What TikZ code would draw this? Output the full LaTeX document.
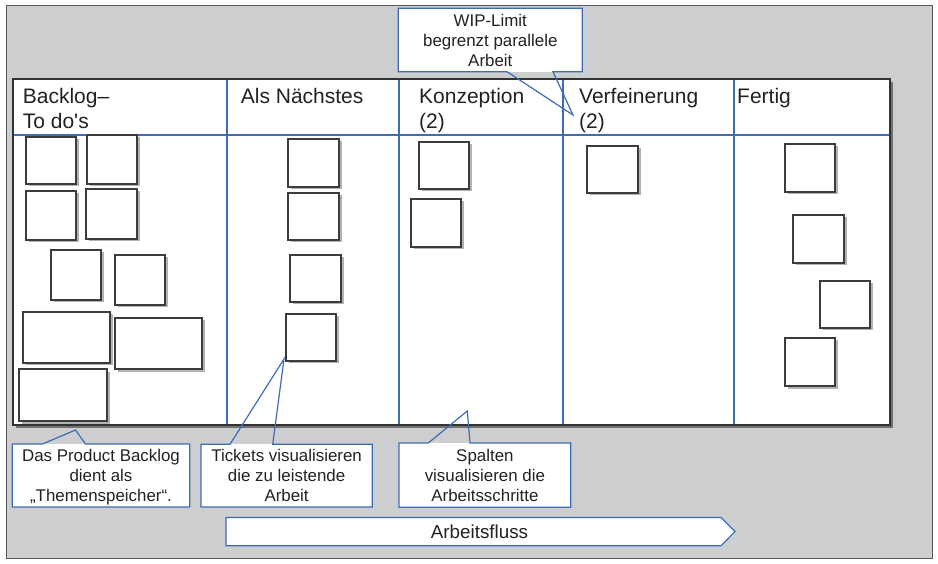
\documentclass[tikz,border=0pt]{standalone}
\usepackage{fontspec}
\setmainfont{Liberation Sans}[Ligatures=TeXOff]
\usetikzlibrary{shadows}
\definecolor{bgray}{HTML}{CDCED0}
\definecolor{kblue}{HTML}{3F6DB3}
\definecolor{txt}{HTML}{222222}
\definecolor{cardline}{HTML}{3C3C3E}
\newcommand\leftlines[1]{\vtop{\halign{##\hfil\cr#1\crcr}}}
\newcommand\centerlines[1]{\vtop{\halign{\hfil##\hfil\cr#1\crcr}}}
\tikzset{
  card/.style={draw=cardline, line width=1.1pt, fill=white, inner sep=0pt,
    drop shadow={shadow xshift=2.5pt, shadow yshift=-2.5pt, fill=black, opacity=0.3}},
  boardbox/.style={draw=black!80, line width=1.2pt, fill=white,
    drop shadow={shadow xshift=3pt, shadow yshift=-3pt, fill=black, opacity=0.45}},
  head/.style={anchor=base west, inner sep=0pt, text=txt, font=\fontsize{21}{25}\selectfont},
  note/.style={anchor=base, inner sep=0pt, text=txt, font=\fontsize{16.9}{20}\selectfont},
  callout/.style={draw=kblue, line width=1.2pt, line join=miter},
  colline/.style={draw=kblue, line width=1.6pt},
}
\newcommand\card[5]{\node[card, minimum width={(#4-#2)*1pt}, minimum height={(#5-#3)*1pt}] (#1) at ({(#2+#4)/2},{(#3+#5)/2}) {};}
\begin{document}
\begin{tikzpicture}[x=1pt, y=-1pt]
\useasboundingbox (0,0) rectangle (938,564);
\fill[white] (0,0) rectangle (938,564);
% outer frame
\draw[fill=bgray, draw=black!65, line width=1pt] (6,6) rectangle (932,558);
% board
\path[boardbox] (13,79) rectangle (890,425);
\draw[colline] (13,135) -- (890,135);
\foreach \x in {227,399,563,734} \draw[colline] (\x,79.6) -- (\x,424.4);
\draw[draw=black!80, line width=1.2pt] (13,79) rectangle (890,425);
% headers
\node[head] (h1) at (22.7,104) {\leftlines{Backlog–\cr To do's}};
\node[head] (h2) at (240.7,104) {Als Nächstes};
\node[head] (h3) at (419,104) {\leftlines{Konzeption\cr (2)}};
\node[head] (h4) at (579,104) {\leftlines{Verfeinerung\cr (2)}};
\node[head] (h5) at (737,104) {Fertig};
% cards
\card{cA}{26}{137}{76}{184}
\card{cB}{87}{135}{137}{184}
\card{cC}{26}{191}{76}{240}
\card{cD}{86}{189}{137}{239}
\card{cE}{51}{250}{101}{300}
\card{cF}{115}{255}{165}{305}
\card{cG}{23}{312}{110}{363}
\card{cH}{115}{318}{202}{369}
\card{cI}{19}{369}{107}{421}
\card{cJ}{288}{139}{339}{187}
\card{cK}{288}{193}{339}{240}
\card{cL}{290}{255}{341}{302}
\card{cM}{286}{314}{336}{361}
\card{cN}{419}{142}{469}{189}
\card{cO}{411}{199}{461}{247}
\card{cP}{587}{146}{638}{193}
\card{cQ}{785}{144}{835}{192}
\card{cR}{793}{215}{844}{263}
\card{cS}{820}{281}{870}{328}
\card{cT}{785}{338}{835}{386}
% callout: WIP
\coordinate (tipW) at (573,115);
\fill[white] (398.3,8.3) rectangle (582.3,71.7);
\draw[callout] (398.3,8.3) -- (582.3,8.3) -- (582.3,71.7) -- (553,71.7) -- (tipW) -- (507,71.7) -- (398.3,71.7) -- cycle;
\node[note] (nW) at (490.3,26.7) {\centerlines{WIP-Limit\cr begrenzt parallele\cr Arbeit}};
% callout: Backlog
\coordinate (tipB) at (75.5,430);
\fill[white] (12.3,444) rectangle (189.7,507);
\draw[callout] (12.3,444) -- (42.5,444) -- (tipB) -- (85.5,444) -- (189.7,444) -- (189.7,507) -- (12.3,507) -- cycle;
\node[note] (nB) at (101,461.5) {\centerlines{Das Product Backlog\cr dient als\cr „Themenspeicher“.}};
% callout: Tickets
\coordinate (tipT) at (284,359);
\fill[white] (201,444.3) rectangle (372.3,507);
\draw[callout] (201,444.3) -- (230,444.3) -- (tipT) -- (272.7,444.3) -- (372.3,444.3) -- (372.3,507) -- (201,507) -- cycle;
\node[note] (nT) at (286.6,461.5) {\centerlines{Tickets visualisieren\cr die zu leistende\cr Arbeit}};
% callout: Spalten
\coordinate (tipS) at (467.3,411);
\fill[white] (399,443) rectangle (570.7,507.3);
\draw[callout] (399,443) -- (428.3,443) -- (tipS) -- (470,443) -- (570.7,443) -- (570.7,507.3) -- (399,507.3) -- cycle;
\node[note] (nS) at (484.9,461.5) {\centerlines{Spalten\cr visualisieren die\cr Arbeitsschritte}};
% flow arrow
\draw[callout, fill=white] (226,517.5) -- (721,517.5) -- (735,531.6) -- (721,545.7) -- (226,545.7) -- cycle;
\node[anchor=base, inner sep=0pt, text=txt, font=\fontsize{18.8}{22}\selectfont] (flow) at (479.5,538.3) {Arbeitsfluss};
\end{tikzpicture}
\end{document}
